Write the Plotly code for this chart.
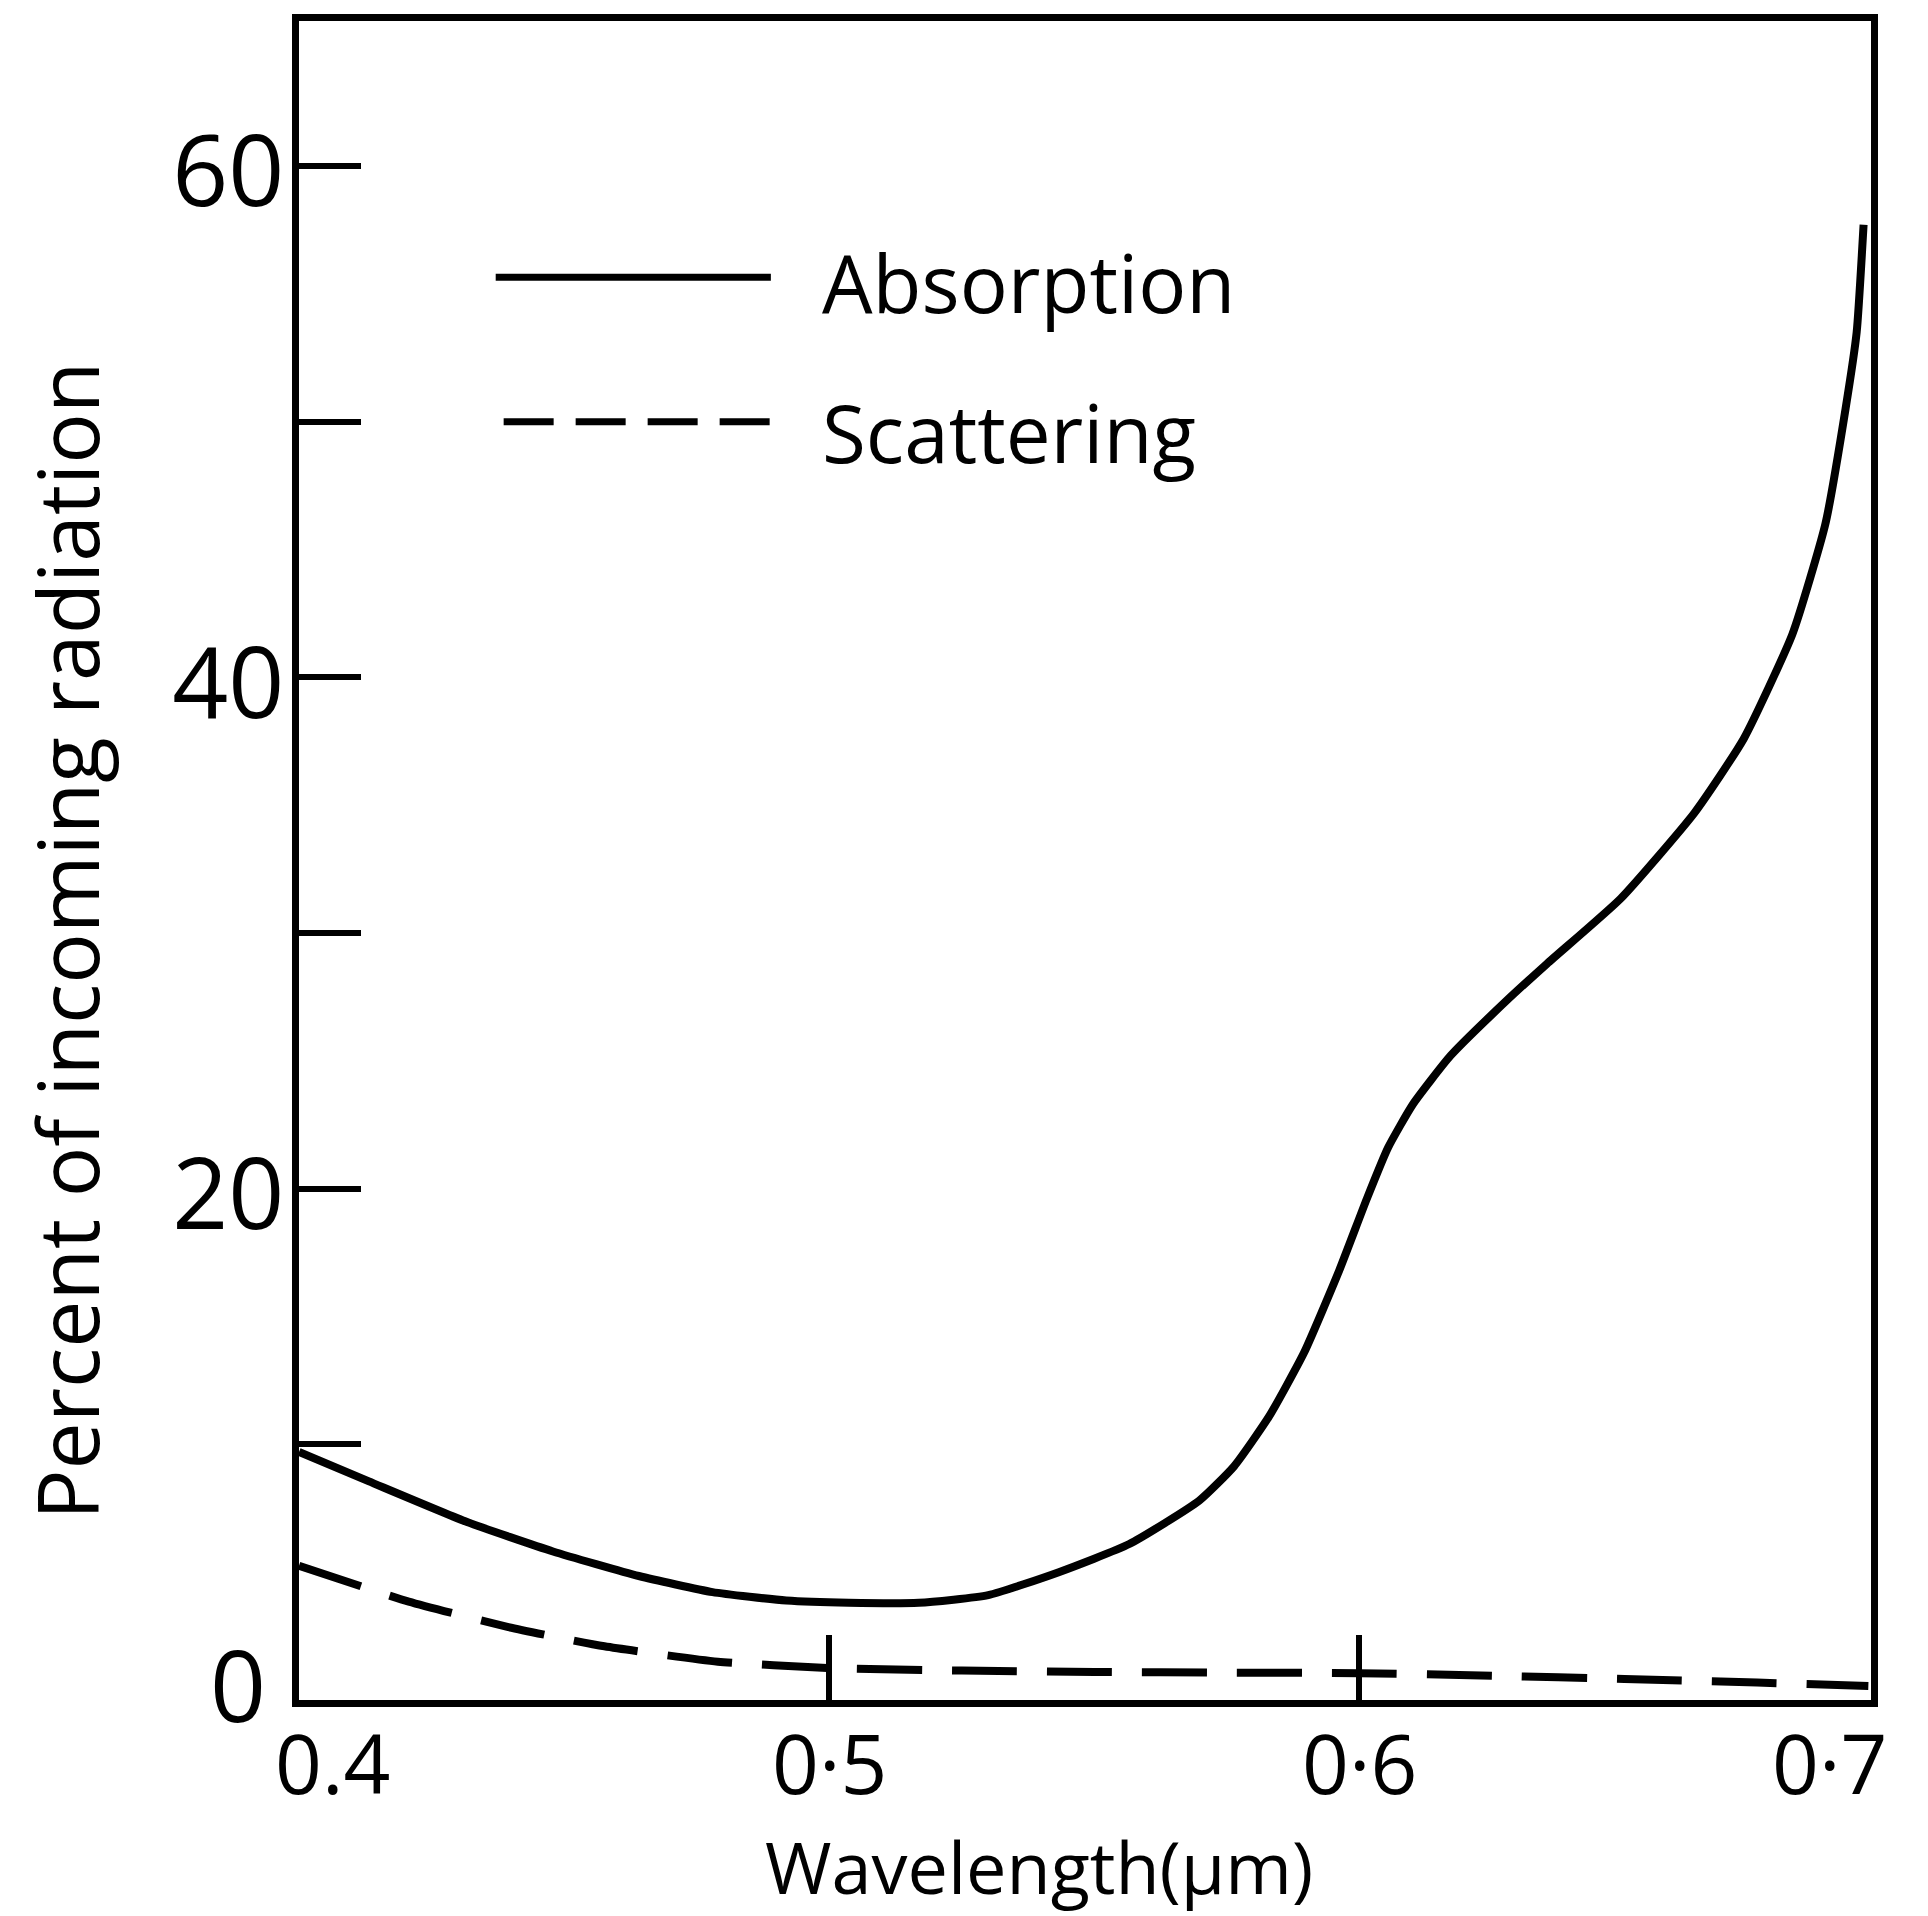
import plotly.graph_objects as go

# Data
abs_x = [0.400, 0.4132, 0.4317, 0.4479, 0.4641, 0.4780, 0.4919, 0.5037, 0.5169, 0.5300,
         0.5433, 0.5566, 0.5698, 0.5764, 0.5830, 0.5896, 0.5962, 0.6014, 0.6054, 0.6101,
         0.6172, 0.6280, 0.6354, 0.6493, 0.6632, 0.6725, 0.6817, 0.6879, 0.6917, 0.6938, 0.6951]
abs_y = [9.70, 8.55, 6.96, 5.81, 4.85, 4.22, 3.89, 3.80, 3.80, 4.10,
         5.00, 6.10, 7.80, 9.15, 11.1, 13.6, 16.8, 19.6, 21.6, 23.3,
         25.2, 27.4, 28.8, 31.35, 34.7, 37.6, 41.7, 46.0, 50.5, 53.5, 57.7]

sca_x = [0.400, 0.4207, 0.4395, 0.4576, 0.4790, 0.500, 0.525, 0.550, 0.575, 0.600,
         0.625, 0.650, 0.675, 0.696]
sca_y = [5.25, 3.85, 2.85, 2.10, 1.50, 1.25, 1.15, 1.10, 1.07, 1.05,
         0.95, 0.82, 0.68, 0.55]

x_tickvals = [0.5, 0.6]
x_labels = ["0.4", "0·5", "0·6", "0·7"]
x_label_pos = [0.4063, 0.5, 0.6, 0.6886]
y_tickvals = [0, 10, 20, 30, 40, 50, 60]
y_ticktext = ["", "", "20", "", "40", "", "60"]
y_zero_label = "0"

FONT = "Open Sans"
W, H = 1928, 1916
ML, MR, MT, MB = 299, 57, 21, 216
PW, PH = W - ML - MR, H - MT - MB


def px_paper(px, py):
    return (px - ML) / PW, (H - MB - py) / PH


fig = go.Figure()
fig.add_trace(go.Scatter(x=abs_x, y=abs_y, mode="lines",
                         line=dict(color="black", width=8, shape="spline", smoothing=0.5),
                         name="Absorption", showlegend=False))
fig.add_trace(go.Scatter(x=sca_x, y=sca_y, mode="lines",
                         line=dict(color="black", width=8, dash="65px,30px", shape="spline", smoothing=0.5),
                         name="Scattering", showlegend=False))

# Legend drawn manually
fig.add_shape(type="line", xref="x", yref="y", x0=0.4371, x1=0.489, y0=55.65, y1=55.65,
              line=dict(color="black", width=7))
fig.add_shape(type="line", xref="x", yref="y", x0=0.4386, x1=0.489, y0=50.0, y1=50.0,
              line=dict(color="black", width=7, dash="50px,22px"))
fig.add_annotation(x=0.4983, y=55.5, xref="x", yref="y", text="Absorption", showarrow=False,
                   xanchor="left", yanchor="middle", font=dict(family=FONT, size=80, color="black"))
fig.add_annotation(x=0.4983, y=49.6, xref="x", yref="y", text="Scattering", showarrow=False,
                   xanchor="left", yanchor="middle", font=dict(family=FONT, size=80, color="black"))

# x tick labels (placed as in the reference)
for lab, pos in zip(x_labels, x_label_pos):
    fig.add_annotation(x=pos, y=0, xref="x", yref="y", text=lab, showarrow=False,
                       xanchor="center", yanchor="top", yshift=-4,
                       font=dict(family=FONT, size=82, color="black"))

# y "0" label, sitting slightly above the corner as in the reference
fig.add_annotation(x=0.4, y=0, xref="x", yref="y", text=y_zero_label, showarrow=False,
                   xanchor="right", yanchor="middle", xshift=-31, yshift=16,
                   font=dict(family=FONT, size=98, color="black"))

# axis titles
tx, ty = px_paper(1039, 1866)
fig.add_annotation(x=tx, y=ty, xref="paper", yref="paper", text="Wavelength(μm)", showarrow=False,
                   xanchor="center", yanchor="middle", font=dict(family=FONT, size=72, color="black"))
tx, ty = px_paper(66, 941)
fig.add_annotation(x=tx, y=ty, xref="paper", yref="paper", text="Percent of incoming radiation",
                   textangle=-90, showarrow=False, xanchor="center", yanchor="middle",
                   font=dict(family=FONT, size=84, color="black"))

fig.update_xaxes(range=[0.4, 0.6965], tickvals=x_tickvals, showticklabels=False,
                 ticks="inside", ticklen=65, tickwidth=6, tickcolor="black",
                 showline=True, linewidth=7, linecolor="black", mirror=True,
                 showgrid=False, zeroline=False)
fig.update_yaxes(range=[0, 65.67], tickvals=y_tickvals, ticktext=y_ticktext,
                 ticks="inside", ticklen=62, tickwidth=6, tickcolor="black",
                 showline=True, linewidth=7, linecolor="black", mirror=True,
                 showgrid=False, zeroline=False, ticklabelstandoff=-12, ticklabelshift=6,
                 tickfont=dict(family=FONT, size=98, color="black"))

fig.update_layout(width=W, height=H, paper_bgcolor="white", plot_bgcolor="white",
                  margin=dict(l=ML, r=MR, t=MT, b=MB, autoexpand=False), showlegend=False)

fig.write_html("out.html")
